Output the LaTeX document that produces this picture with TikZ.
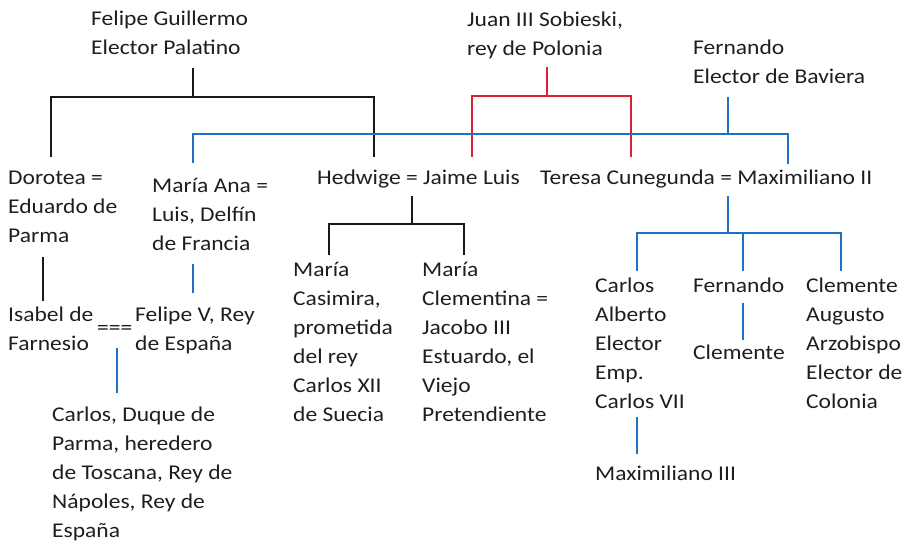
\documentclass[tikz,border=0pt]{standalone}
\usepackage{fontspec}
\setmainfont{Carlito}[FakeStretch=1.12]
\usetikzlibrary{positioning}
\definecolor{kinred}{RGB}{222,32,52}
\definecolor{kinblue}{RGB}{32,112,200}
\definecolor{kintext}{RGB}{30,30,30}

\begin{document}
\begin{tikzpicture}[x=1pt,y=-1pt,
person/.style={anchor=base west,inner sep=0pt,align=left,text=kintext,
font=\fontsize{21}{29}\selectfont},
blackline/.style={draw=black!90,line width=1.7pt},
redline/.style={draw=kinred,line width=1.7pt},
blueline/.style={draw=kinblue,line width=1.7pt}]
\useasboundingbox (0,0) rectangle (909,541);
% first generation (placed at the baseline of the last line)
\node[person](fg) at (91,54) {Felipe Guillermo\\Elector Palatino};
\node[person](js) at (467,55) {Juan III Sobieski,\\rey de Polonia};
\node[person](fb) at (693,83) {Fernando\\Elector de Baviera};
% second generation
\node[person](dor) at (8,242) {Dorotea =\\Eduardo de\\Parma};
\node[person](ma) at (152,250) {María Ana =\\Luis, Delfín\\de Francia};
\node[person](hed) at (317,184) {Hedwige = Jaime Luis};
\node[person](ter) at (540,184) {Teresa Cunegunda = Maximiliano II};
% third generation
\node[person](isa) at (8,350) {Isabel de\\Farnesio};
\node[person](eq) at (97,334) {===};
\node[person](fv) at (135,350) {Felipe V, Rey\\de España};
\node[person](mcas) at (293,421) {María\\Casimira,\\prometida\\del rey\\Carlos XII\\de Suecia};
\node[person](mcle) at (422,421) {María\\Clementina =\\Jacobo III\\Estuardo, el\\Viejo\\Pretendiente};
\node[person](ca) at (595,408) {Carlos\\Alberto\\Elector\\Emp.\\Carlos VII};
\node[person](fer) at (693,292) {Fernando};
\node[person](cla) at (806,408) {Clemente\\Augusto\\Arzobispo\\Elector de\\Colonia};
% fourth generation
\node[person](cdp) at (52,537) {Carlos, Duque de\\Parma, heredero\\de Toscana, Rey de\\Nápoles, Rey de\\España};
\node[person](clem) at (693,359) {Clemente};
\node[person](m3) at (595,480) {Maximiliano III};
% Felipe Guillermo
\coordinate (fg1) at (193,68);\coordinate (fg2) at (193,97);
\coordinate (fg3) at (51,97);\coordinate (fg4) at (374,97);
\coordinate (fg5) at (51,157);\coordinate (fg6) at (374,157);
\draw[blackline] (fg1)--(fg2);
\draw[blackline] (fg5)--(fg3)--(fg4)--(fg6);
% Dorotea
\coordinate (dor1) at (43,257);\coordinate (dor2) at (43,301);
\draw[blackline] (dor1)--(dor2);
% Hedwige
\coordinate (hed1) at (412,196);\coordinate (hed2) at (412,224);
\coordinate (hed3) at (329,224);\coordinate (hed4) at (464,224);
\coordinate (hed5) at (329,255);\coordinate (hed6) at (464,255);
\draw[blackline] (hed1)--(hed2);
\draw[blackline] (hed5)--(hed3)--(hed4)--(hed6);
% Juan III Sobieski
\coordinate (js1) at (547,67);\coordinate (js2) at (547,96);
\coordinate (js3) at (472,96);\coordinate (js4) at (631,96);
\coordinate (js5) at (472,157);\coordinate (js6) at (631,157);
\draw[redline] (js1)--(js2);
\draw[redline] (js5)--(js3)--(js4)--(js6);
% Fernando Elector de Baviera
\coordinate (fb1) at (728,97);\coordinate (fb2) at (728,134);
\coordinate (fb3) at (193,134);\coordinate (fb4) at (788,134);
\coordinate (fb5) at (193,163);\coordinate (fb6) at (788,164);
\draw[blueline] (fb1)--(fb2);
\draw[blueline] (fb5)--(fb3)--(fb4)--(fb6);
% Maria Ana
\coordinate (ma1) at (193,264);\coordinate (ma2) at (193,293);
\draw[blueline] (ma1)--(ma2);
\coordinate (fv1) at (117,348);\coordinate (fv2) at (117,393);
\draw[blueline] (fv1)--(fv2);
% Teresa Cunegunda
\coordinate (ter1) at (728,196);\coordinate (ter2) at (728,233);
\coordinate (ter3) at (637,233);\coordinate (ter4) at (841,233);
\coordinate (ter5) at (637,271);\coordinate (ter6) at (841,271);
\coordinate (ter7) at (743,233);\coordinate (ter8) at (743,271);
\draw[blueline] (ter1)--(ter2);
\draw[blueline] (ter5)--(ter3)--(ter4)--(ter6);
\draw[blueline] (ter7)--(ter8);
% Fernando, Carlos Alberto
\coordinate (fer1) at (743,303);\coordinate (fer2) at (743,340);
\draw[blueline] (fer1)--(fer2);
\coordinate (ca1) at (637,417);\coordinate (ca2) at (637,454);
\draw[blueline] (ca1)--(ca2);
\end{tikzpicture}
\end{document}
